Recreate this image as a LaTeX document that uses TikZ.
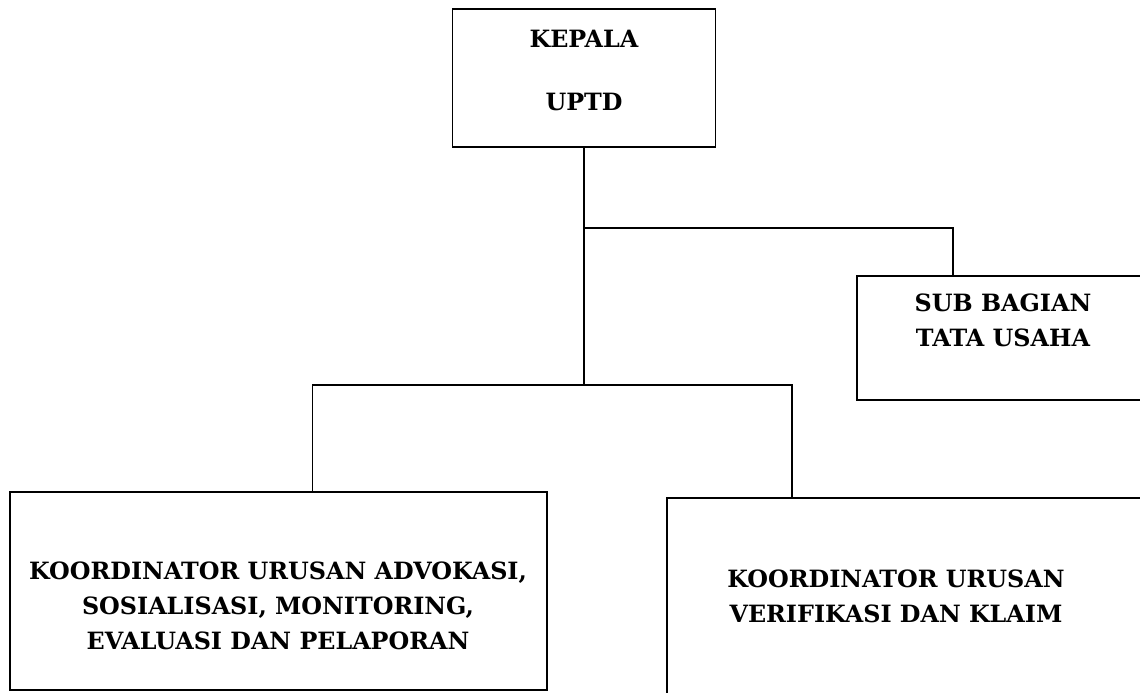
\documentclass[tikz,border=0pt]{standalone}
\usepackage{fontspec}
\setmainfont{DejaVu Serif}
\begin{document}
\begin{tikzpicture}[x=1pt,y=-1pt,
  box/.style={draw, line width=1.6pt, rectangle, inner sep=0pt},
  lbl/.style={font=\fontsize{23.8}{35}\selectfont\bfseries, align=center, inner sep=0pt},
  conn/.style={line width=1.6pt}]
\useasboundingbox (0,0) rectangle (1140,693);
\clip (0,0) rectangle (1140,693);
\node[box, minimum width=263pt, minimum height=138pt] (kepala) at (584,78) {};
\node[box, minimum width=303pt, minimum height=124pt] (sub) at (1008.5,338) {};
\node[box, minimum width=537pt, minimum height=198pt] (left) at (278.5,591) {};
\node[box, minimum width=503pt, minimum height=222pt] (right) at (918.5,609) {};
\node[lbl] (kepalaT) at (584,70) {KEPALA\\[28pt]UPTD};
\node[lbl] (subT) at (1003,320) {SUB BAGIAN\\TATA USAHA};
\node[lbl] (leftT) at (278,606) {KOORDINATOR URUSAN ADVOKASI,\\SOSIALISASI, MONITORING,\\EVALUASI DAN PELAPORAN};
\node[lbl] (rightT) at (896,596) {KOORDINATOR URUSAN\\VERIFIKASI DAN KLAIM};
\coordinate (jA) at (584,228);
\coordinate (jB) at (584,385);
\draw[conn] (kepala.south) -- (jB);
\draw[conn] (jA) -| ([xshift=-55.5pt]sub.north);
\draw[conn] ([xshift=34pt]left.north) |- (jB) -| ([xshift=-126.5pt]right.north);
\end{tikzpicture}
\end{document}
